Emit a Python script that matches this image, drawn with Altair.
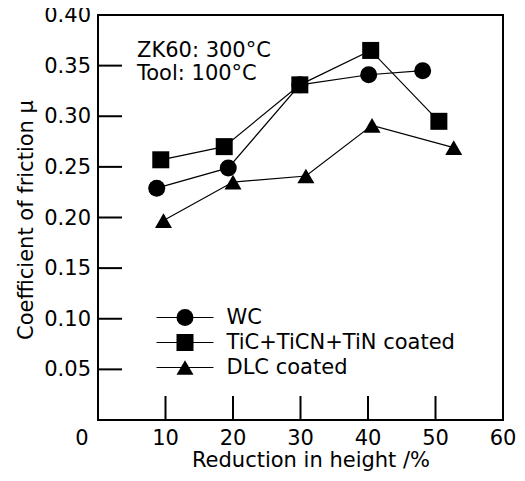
import altair as alt
import pandas as pd

series = ["WC", "TiC+TiCN+TiN coated", "DLC coated"]
x_wc = [8.7, 19.3, 29.9, 40.1, 48.1]
y_wc = [0.229, 0.249, 0.331, 0.341, 0.345]
x_tic = [9.3, 18.7, 29.9, 40.4, 50.5]
y_tic = [0.257, 0.270, 0.331, 0.365, 0.295]
x_dlc = [9.7, 20.0, 30.8, 40.6, 52.7]
y_dlc = [0.197, 0.235, 0.241, 0.291, 0.269]
x_ticks = [0, 10, 20, 30, 40, 50, 60]
x_tick_labels = ["0", "10", "20", "30", "40", "50", "60"]
y_ticks = [0.05, 0.10, 0.15, 0.20, 0.25, 0.30, 0.35, 0.40]
y_tick_labels = ["0.05", "0.10", "0.15", "0.20", "0.25", "0.30", "0.35", "0.40"]
x_domain = [0, 60]
y_domain = [0.0, 0.40]
x_title = "Reduction in height /%"
y_title = "Coefficient of friction μ"
note = "ZK60: 300°C\nTool: 100°C"

rows = []
for name, xs_, ys_ in [(series[0], x_wc, y_wc), (series[1], x_tic, y_tic), (series[2], x_dlc, y_dlc)]:
    for xv, yv in zip(xs_, ys_):
        rows.append({"series": name, "series_l": name, "x": xv, "y": yv})
df = pd.DataFrame(rows)

frame_df = pd.DataFrame({
    "fx": [x_domain[0], x_domain[1], x_domain[1], x_domain[0], x_domain[0]],
    "fy": [y_domain[0], y_domain[0], y_domain[1], y_domain[1], y_domain[0]],
    "k": [0, 1, 2, 3, 4],
})
xtick_df = pd.DataFrame({"v": x_ticks, "lab": x_tick_labels})
ytick_df = pd.DataFrame({"v": y_ticks, "lab": y_tick_labels})

FONT = "DejaVu Sans"
FS = 21

xscale = alt.Scale(domain=x_domain, nice=False, zero=False)
yscale = alt.Scale(domain=y_domain, nice=False, zero=False)

LX = 76.5
LY = 292

lines = alt.Chart(df).mark_line(strokeWidth=1.2).encode(
    x=alt.X("x:Q", scale=xscale, axis=None),
    y=alt.Y("y:Q", scale=yscale, axis=None),
    color=alt.Color("series_l:N", title=None,
                    scale=alt.Scale(domain=series, range=["black", "black", "black"]),
                    legend=alt.Legend(orient="none", legendX=LX, legendY=LY,
                                      symbolType="M-3.35,0H3.35", symbolSize=289,
                                      symbolStrokeWidth=1.2, symbolFillColor="transparent",
                                      padding=0, labelFont=FONT, labelFontSize=FS,
                                      labelColor="black", labelLimit=400,
                                      labelOffset=31, rowPadding=3)),
)

points = alt.Chart(df).mark_point(filled=True, size=289, opacity=1, color="black").encode(
    x=alt.X("x:Q", axis=None),
    y=alt.Y("y:Q", axis=None),
    shape=alt.Shape("series:N", title=None,
                    scale=alt.Scale(domain=series, range=["circle", "square", "triangle-up"]),
                    legend=alt.Legend(orient="none", legendX=LX, legendY=LY, symbolSize=289,
                                      symbolFillColor="black", symbolStrokeWidth=0, padding=0,
                                      labelFont=FONT, labelFontSize=FS, labelOpacity=0,
                                      labelLimit=400, labelOffset=31, rowPadding=3)),
)

frame = alt.Chart(frame_df).mark_line(color="black", strokeWidth=2).encode(
    x=alt.X("fx:Q", axis=None),
    y=alt.Y("fy:Q", axis=None),
    order="k:Q",
)

# inward ticks and tick labels, placed through the scales
xticks = alt.Chart(xtick_df).mark_tick(
    orient="vertical", size=24, thickness=2, yOffset=-12, color="black", opacity=1
).encode(x=alt.X("v:Q", axis=None), y=alt.YDatum(y_domain[0], axis=None))

yticks = alt.Chart(ytick_df).mark_tick(
    orient="horizontal", size=24, thickness=2, xOffset=12, color="black", opacity=1
).encode(y=alt.Y("v:Q", axis=None), x=alt.XDatum(x_domain[0], axis=None))

xlabels = alt.Chart(xtick_df).transform_filter("datum.v != 0").mark_text(
    font=FONT, fontSize=FS, baseline="middle", align="center", dy=19, color="black"
).encode(x=alt.X("v:Q", axis=None), y=alt.YDatum(y_domain[0], axis=None), text="lab:N")

xlabel0 = alt.Chart(xtick_df).transform_filter("datum.v == 0").mark_text(
    font=FONT, fontSize=FS, baseline="middle", align="center", dy=19, dx=-16, color="black"
).encode(x=alt.X("v:Q", axis=None), y=alt.YDatum(y_domain[0], axis=None), text="lab:N")

ylabels = alt.Chart(ytick_df).mark_text(
    font=FONT, fontSize=FS, baseline="middle", align="right", dx=-7, dy=1, color="black"
).encode(y=alt.Y("v:Q", axis=None), x=alt.XDatum(x_domain[0], axis=None), text="lab:N")

xtitle = alt.Chart(pd.DataFrame({"t": [x_title]})).mark_text(
    font=FONT, fontSize=FS, align="center", baseline="alphabetic", color="black"
).encode(x=alt.value(213), y=alt.value(452), text="t:N")

ytitle = alt.Chart(pd.DataFrame({"t": [y_title]})).mark_text(
    font=FONT, fontSize=FS, align="center", baseline="middle", angle=270, color="black"
).encode(x=alt.value(-71), y=alt.value(205), text="t:N")

text = alt.Chart(pd.DataFrame({"t": [note]})).mark_text(
    align="left", baseline="alphabetic", font=FONT, fontSize=FS, lineBreak="\n",
    lineHeight=23, color="black"
).encode(x=alt.value(39), y=alt.value(42), text="t:N")

chart = alt.layer(
    lines, frame, xticks, yticks, points, xlabels, xlabel0, ylabels, xtitle, ytitle, text
).resolve_legend(
    color="independent", shape="independent"
).properties(
    width=405, height=405, background="white",
    autosize=alt.AutoSizeParams(type="none"),
    padding={"left": 90, "top": 7, "right": 14, "bottom": 53},
).configure_view(stroke="black", strokeWidth=2)

chart.save("out.html", embed_options={"renderer": "svg", "actions": False})
